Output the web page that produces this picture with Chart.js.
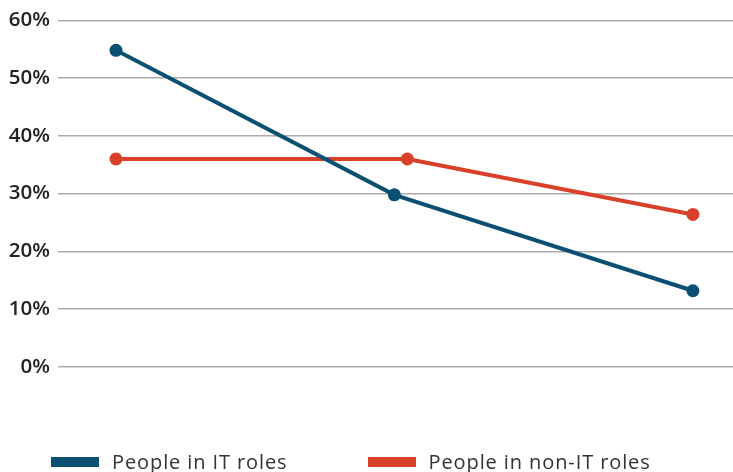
<!DOCTYPE html>
<html>
<head>
<meta charset="utf-8">
<script src="https://cdn.jsdelivr.net/npm/chart.js@4/dist/chart.umd.min.js"></script>
<style>
  html, body { margin: 0; padding: 0; background: #fff; }
  #wrap { position: relative; width: 733px; height: 472px; overflow: hidden; }
  #c { display: block; }
  #legend { position: absolute; left: 51px; top: 448px; display: flex; font-family: "Open Sans", sans-serif; font-size: 20px; letter-spacing: 0.9px; color: #333; }
  .item { display: flex; align-items: center; white-space: nowrap; }
  .swatch { width: 48px; height: 10px; margin-right: 13px; }
</style>
</head>
<body>
<div id="wrap">
  <canvas id="c" width="733" height="472"></canvas>
  <div id="legend"></div>
</div>
<script>
// Share of respondents at three points, per group
const seriesNames = ["People in IT roles", "People in non-IT roles"];
const itX = [0, 0.965, 2];
const itValues = [54.8, 29.8, 13.2];
const nonItX = [0, 1.01, 2];
const nonItValues = [36, 36, 26.4];
const yTicks = [0, 10, 20, 30, 40, 50, 60];

const blue = "#0B4F72";
const red = "#D8402A";

function toPoints(xs, ys) {
  return xs.map((x, i) => ({ x: x, y: ys[i] }));
}

const datasets = [
  { label: seriesNames[0], data: toPoints(itX, itValues), color: blue },
  { label: seriesNames[1], data: toPoints(nonItX, nonItValues), color: red }
].map(d => ({
  label: d.label,
  data: d.data,
  borderColor: d.color,
  backgroundColor: d.color,
  pointBackgroundColor: d.color,
  pointBorderWidth: 0,
  pointRadius: 6.5,
  borderWidth: 4,
  tension: 0,
  fill: false
}));

const chart = new Chart(document.getElementById("c"), {
  type: "line",
  data: { datasets: datasets },
  options: {
    responsive: false,
    animation: false,
    layout: { autoPadding: false, padding: { top: 19, right: 0, bottom: 105, left: 0 } },
    plugins: { legend: { display: false }, tooltip: { enabled: false } },
    scales: {
      x: { type: "linear", display: false, min: -0.201, max: 2.139 },
      y: {
        min: yTicks[0],
        max: yTicks[yTicks.length - 1],
        afterBuildTicks: s => { s.ticks = yTicks.map(v => ({ value: v })); },
        afterFit: s => { s.width = 58; },
        border: { display: false },
        grid: { color: "#ababab", lineWidth: 1.5, drawTicks: false },
        ticks: {
          padding: 8,
          color: "#222",
          font: { family: "Open Sans", size: 20.5, weight: "600" },
          callback: v => v + "%"
        }
      }
    }
  }
});

// Legend row under the plot, built from the datasets
const legend = document.getElementById("legend");
chart.data.datasets.forEach((ds, i) => {
  const item = document.createElement("div");
  item.className = "item";
  if (i > 0) item.style.marginLeft = "80px";
  const sw = document.createElement("span");
  sw.className = "swatch";
  sw.style.background = ds.borderColor;
  const txt = document.createElement("span");
  txt.textContent = ds.label;
  item.appendChild(sw);
  item.appendChild(txt);
  legend.appendChild(item);
});
</script>
</body>
</html>
